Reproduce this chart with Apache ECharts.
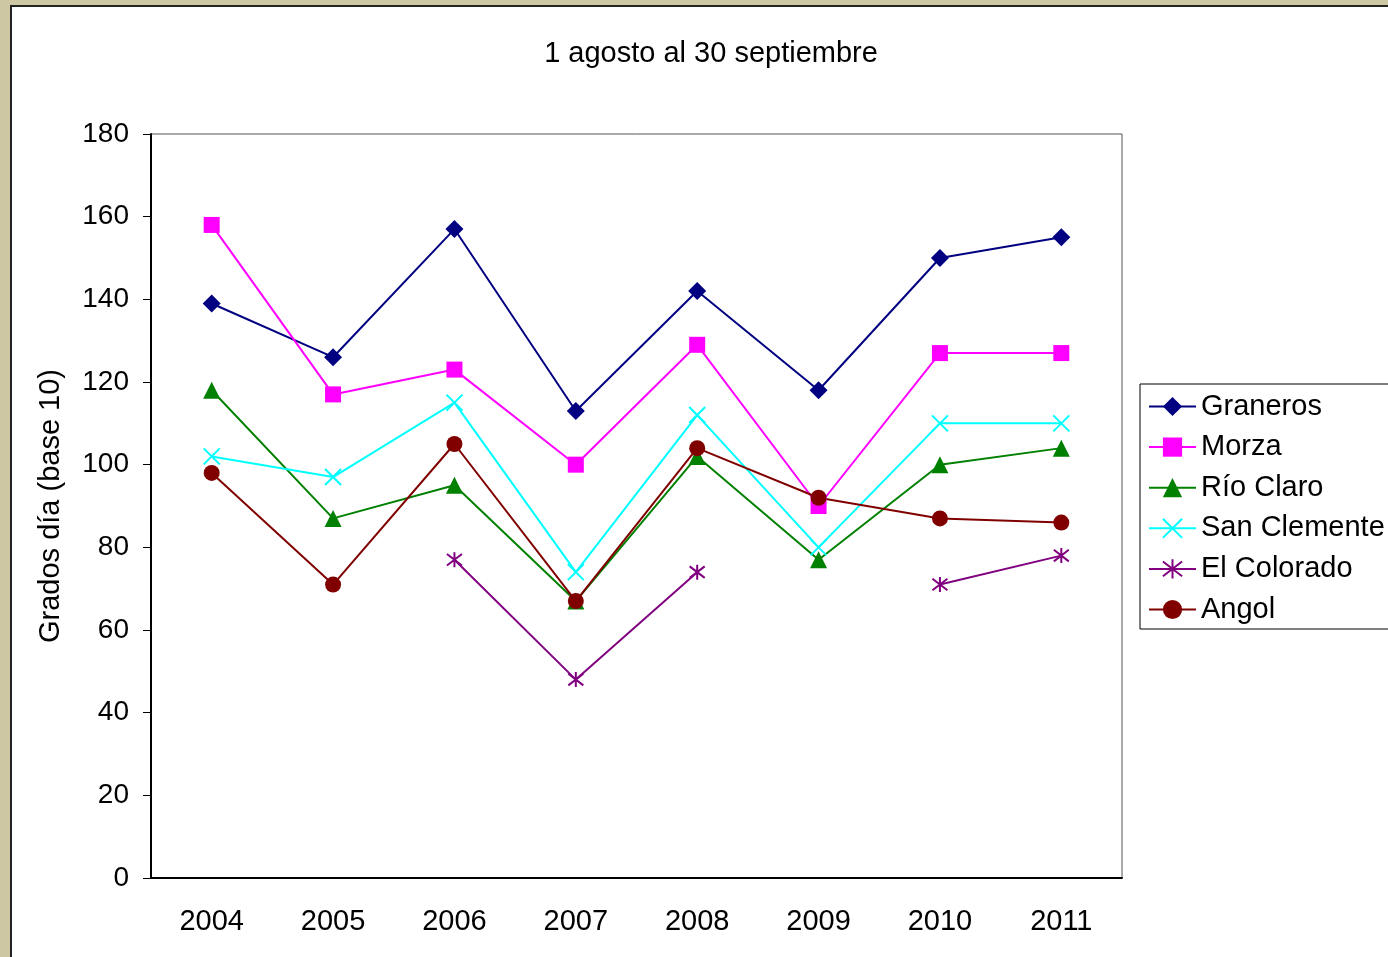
<!DOCTYPE html>
<html>
<head>
<meta charset="utf-8">
<script src="https://cdn.jsdelivr.net/npm/echarts@6/dist/echarts.min.js"></script>
<style>
html, body { margin: 0; padding: 0; width: 1388px; height: 957px; overflow: hidden; background: #cdc8a3; }
.frame { position: absolute; left: 10px; top: 5px; width: 1400px; height: 980px; background: #fff; border: 2px solid #222; }
#chart { position: absolute; left: 0; top: 0; width: 1388px; height: 957px; }
</style>
</head>
<body>
<div class="frame"></div>
<div id="chart"></div>
<script>
// años
var years = ['2004', '2005', '2006', '2007', '2008', '2009', '2010', '2011'];

// grados día por estación
var graneros = [139, 126, 157, 113, 142, 118, 150, 155];
var morza = [158, 117, 123, 100, 129, 90, 127, 127];
var rioClaro = [118, 87, 95, 67, 102, 77, 100, 104];
var sanClemente = [102, 97, 115, 74, 112, 80, 110, 110];
var elColorado = [null, null, 77, 48, 74, null, 71, 78];
var angol = [98, 71, 105, 67, 104, 92, 87, 86];

var font = 'Liberation Sans, Arial, sans-serif';

function serie(name, data, color, symbol, size, stroke) {
  var s = {
    name: name,
    type: 'line',
    data: data,
    symbol: symbol,
    symbolSize: size,
    showAllSymbol: true,
    connectNulls: false,
    lineStyle: { color: color, width: 2 },
    itemStyle: { color: color }
  };
  if (stroke) {
    s.itemStyle = { color: 'none', borderColor: color, borderWidth: 2 };
  }
  return s;
}

var chart = echarts.init(document.getElementById('chart'));
var option = {
  animation: false,
  textStyle: { fontFamily: font },
  title: {
    text: '1 agosto al 30 septiembre',
    left: 706,
    textAlign: 'center',
    top: 34,
    textStyle: { fontFamily: font, fontSize: 29, fontWeight: 'normal', color: '#000' }
  },
  legend: {
    orient: 'vertical',
    left: 1140,
    top: 384,
    padding: [8, 30, 5, 8],
    itemGap: 11.6,
    itemWidth: 47,
    itemHeight: 24,
    borderColor: '#000',
    borderWidth: 1,
    textStyle: { fontFamily: font, fontSize: 29, color: '#000', padding: [0, 0, 0, 0] },
    data: ['Graneros', 'Morza', 'Río Claro', 'San Clemente', 'El Colorado', 'Angol']
  },
  grid: {
    left: 151,
    right: 266,
    top: 134,
    bottom: 79,
    show: true,
    borderColor: '#555',
    borderWidth: 1
  },
  xAxis: {
    type: 'category',
    data: years,
    boundaryGap: true,
    axisLine: { lineStyle: { color: '#000', width: 2 } },
    axisTick: { length: 8, lineStyle: { color: '#000', width: 1 } },
    axisLabel: { margin: 29, fontFamily: font, fontSize: 29, color: '#000' },
    splitLine: { show: false }
  },
  yAxis: {
    type: 'value',
    min: 0,
    max: 180,
    interval: 20,
    name: 'Grados día (base 10)',
    nameLocation: 'middle',
    nameGap: 86,
    nameTextStyle: { fontFamily: font, fontSize: 29, color: '#000' },
    axisLine: { show: true, lineStyle: { color: '#000', width: 2 } },
    axisTick: { show: true, length: 8, lineStyle: { color: '#000', width: 1 } },
    axisLabel: { margin: 22, fontFamily: font, fontSize: 28, color: '#000' },
    splitLine: { show: false }
  },
  series: [
    serie('Graneros', graneros, '#000080', 'diamond', 18),
    serie('Morza', morza, '#ff00ff', 'rect', 16),
    serie('Río Claro', rioClaro, '#008000', 'triangle', 17),
    serie('San Clemente', sanClemente, '#00ffff', 'path://M0,0L10,10M10,0L0,10', 16, true),
    serie('El Colorado', elColorado, '#800080', 'path://M0,0L10,10M10,0L0,10M5,-1.5L5,11.5', 15, true),
    serie('Angol', angol, '#800000', 'circle', 16)
  ]
};
chart.setOption(option);
</script>
</body>
</html>
